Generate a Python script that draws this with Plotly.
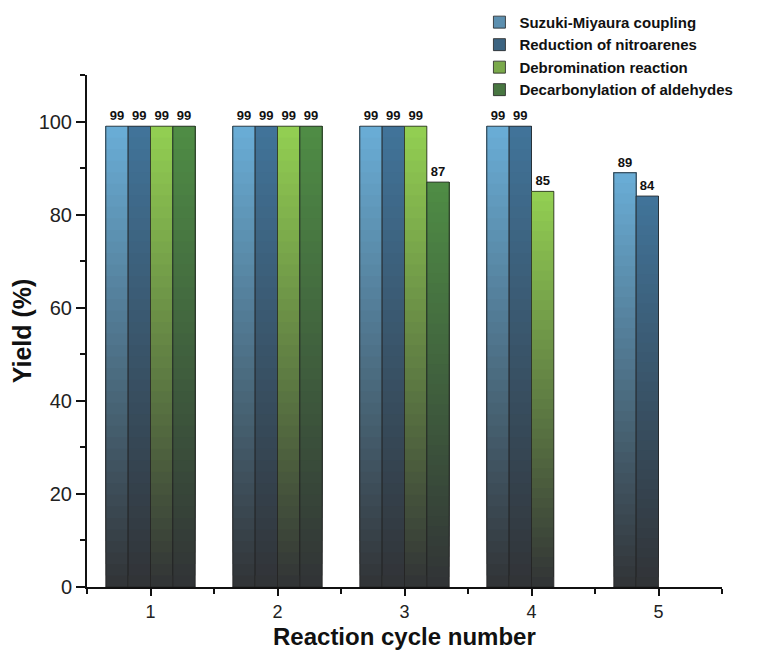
import plotly.graph_objects as go

cycles = [1, 2, 3, 4, 5]
series_names = ["Suzuki-Miyaura coupling", "Reduction of nitroarenes",
                "Debromination reaction", "Decarbonylation of aldehydes"]
suzuki = [99, 99, 99, 99, 89]
nitro = [99, 99, 99, 99, 84]
debrom = [99, 99, 99, 85, None]
decarb = [99, 99, 87, None, None]
series_values = [suzuki, nitro, debrom, decarb]
top_colors = ["#6AAED7", "#41749A", "#93D052", "#4F8D45"]
bottom_color = "#313336"
x_ticks = [1, 2, 3, 4, 5]
y_ticks = [0, 20, 40, 60, 80, 100]

N_SEG = 40
BAR_W = 0.176


def hex2rgb(h):
    h = h.lstrip("#")
    return tuple(int(h[i:i + 2], 16) for i in (0, 2, 4))


def mix(c1, c2, t):
    a, b = hex2rgb(c1), hex2rgb(c2)
    return "rgb(%d,%d,%d)" % tuple(round(a[j] + (b[j] - a[j]) * t) for j in range(3))


fig = go.Figure()
for i, (name, vals, col) in enumerate(zip(series_names, series_values, top_colors)):
    off = -2 * BAR_W + i * BAR_W
    for k in range(N_SEG):
        base = [None if v is None else v * k / N_SEG for v in vals]
        h = [None if v is None else v - v * k / N_SEG for v in vals]
        fig.add_trace(go.Bar(
            x=cycles, y=h, base=base, width=BAR_W, offset=off,
            marker=dict(color=mix(bottom_color, col, (k + 0.5) / N_SEG), line=dict(width=0)),
            showlegend=False, hoverinfo="skip"))
    # outline + labels
    fig.add_trace(go.Bar(
        x=cycles, y=vals, width=BAR_W, offset=off, name=name,
        marker=dict(color="rgba(0,0,0,0)", line=dict(width=0.8, color="#222222")),
        text=[None if v is None else str(v) for v in vals],
        textposition="outside", cliponaxis=False,
        textfont=dict(family="Liberation Sans", size=13, color="#111111", weight="bold"),
        showlegend=False))
    # legend entry
    fig.add_trace(go.Bar(
        x=[None], y=[None], name=name,
        marker=dict(color=mix(bottom_color, col, 0.75), line=dict(width=0.8, color="#222222")),
        showlegend=True))

fig.add_annotation(text="Reaction cycle number", xref="paper", yref="paper",
                   x=0.5, y=-0.097, xanchor="center", yanchor="middle", showarrow=False,
                   font=dict(size=24, weight="bold", color="#111111"))

fig.update_layout(
    width=753, height=644,
    barmode="overlay",
    plot_bgcolor="white", paper_bgcolor="white",
    margin=dict(l=79, r=39, t=67, b=65, autoexpand=False),
    font=dict(family="Liberation Sans", color="#111111"),
    legend=dict(x=0.618, y=1.135, xanchor="left", yanchor="top",
                font=dict(size=15, weight="bold", color="#111111"),
                bgcolor="rgba(0,0,0,0)", tracegroupgap=0, itemwidth=30),
    xaxis=dict(range=[0.5, 5.5], tickvals=x_ticks, ticktext=[str(t) for t in x_ticks],
               automargin=False,
               showline=True, linecolor="#111111", linewidth=2, showgrid=False, zeroline=False,
               ticks="outside", ticklen=7, tickwidth=2, tickcolor="#111111",
               tickfont=dict(size=18, color="#222222"),
               minor=dict(tickvals=[0.5, 1.5, 2.5, 3.5, 4.5, 5.5], ticks="outside",
                          ticklen=5, tickwidth=2, tickcolor="#111111")),
    yaxis=dict(range=[0, 110], tickvals=y_ticks, automargin=False,
               showline=True, linecolor="#111111", linewidth=2, showgrid=False, zeroline=False,
               ticks="outside", ticklen=9, tickwidth=2, tickcolor="#111111",
               tickfont=dict(size=20, color="#222222"),
               minor=dict(tickvals=[10, 30, 50, 70, 90, 110], ticks="outside",
                          ticklen=5, tickwidth=2, tickcolor="#111111"),
               title=dict(text="Yield (%)", standoff=0,
                          font=dict(size=25, weight="bold", color="#111111"))),
)

fig.write_html("out.html")
